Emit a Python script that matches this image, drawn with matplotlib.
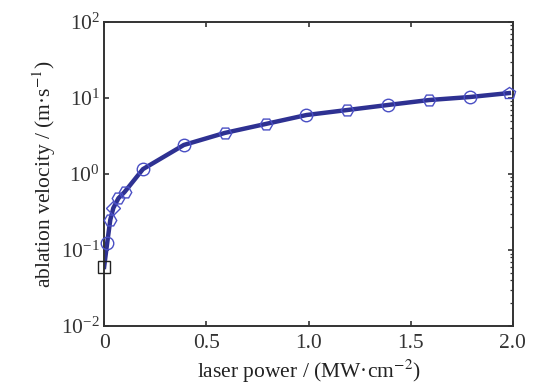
import matplotlib
matplotlib.use("Agg")
import matplotlib.pyplot as plt

# laser power (MW/cm^2) and ablation velocity (m/s)
power = [0.0, 0.015, 0.03, 0.045, 0.07, 0.10, 0.19, 0.39, 0.59, 0.79, 0.99, 1.19, 1.39, 1.59, 1.79, 1.98]
velocity = [0.060, 0.124, 0.248, 0.357, 0.48, 0.58, 1.16, 2.41, 3.47, 4.55, 5.97, 6.95, 8.1, 9.4, 10.3, 11.6]
markers = ['s', 'o', 'H', 'D', 'H', 'H', 'o', 'o', 'H', 'H', 'o', 'H', 'o', 'H', 'o', 'p']
edge_colors = ['#222222'] + ['#4a4fc4'] * (len(power) - 1)

plt.rcParams['font.family'] = ['Liberation Serif', 'DejaVu Serif']
plt.rcParams['mathtext.fontset'] = 'stix'


def main():
    fig = plt.figure(figsize=(5.48, 3.85), dpi=100)
    ax = fig.add_axes([0.19, 0.153, 0.746, 0.79])
    ax.plot(power, velocity, color='#2e3192', lw=3.2, zorder=2)
    for x, y, m, c in zip(power, velocity, markers, edge_colors):
        ax.plot(x, y, marker=m, ms=9 if m != 'D' else 7, mfc='none', mec=c, mew=1.0, zorder=3, clip_on=False)
    ax.set_yscale('log')
    ax.set_xlim(0, 2.0)
    ax.set_ylim(1e-2, 1e2)
    ax.set_xticks([0, 0.5, 1.0, 1.5, 2.0])
    ax.set_xticklabels(['0', '0.5', '1.0', '1.5', '2.0'])
    ax.tick_params(direction='in', which='major', top=True, right=True, labelsize=15.5,
                   colors='#333333', pad=6, length=3.5, width=1.2)
    ax.tick_params(axis='y', which='major', pad=3)
    ax.tick_params(direction='in', which='minor', left=False, right=True, bottom=False, top=False,
                   length=2.5, width=0.9, colors='#333333')
    for s in ax.spines.values():
        s.set_color('#333333')
        s.set_linewidth(1.4)
    ax.set_xlabel('laser power / (MW·cm$^{-2}$)', fontsize=15.5, color='#222222', labelpad=3)
    ax.set_ylabel('ablation velocity / (m·s$^{-1}$)', fontsize=15.5, color='#222222', labelpad=2)
    fig.savefig('out.png', dpi=100)


if __name__ == '__main__':
    main()
